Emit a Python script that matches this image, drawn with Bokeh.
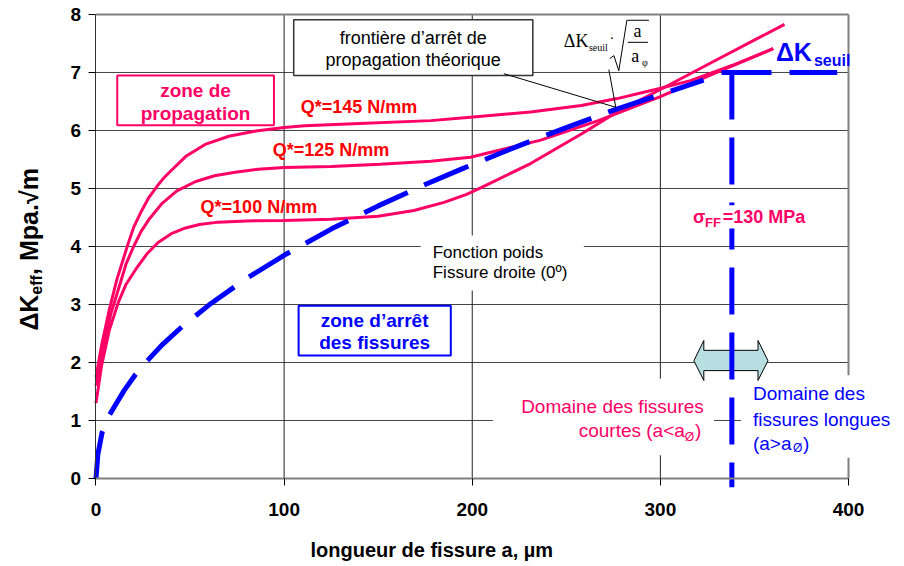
import math
from bokeh.plotting import figure
from bokeh.models import Label, FixedTicker, Range1d
from bokeh.embed import file_html
from bokeh.resources import INLINE

# ---------------- data ----------------
x_ticks = [0, 100, 200, 300, 400]
y_ticks = [0, 1, 2, 3, 4, 5, 6, 7, 8]
x_grid = [100, 200, 300]
y_grid = [1, 2, 3, 4, 5, 6, 7]

# Q* = 145 N/mm
a_q145 = [0, 3, 7, 11, 16.6, 20, 24, 28, 32.5, 36, 40, 47.6, 58, 70.6, 85, 100, 111, 140, 178, 199, 231, 258, 277, 299, 316, 338, 360]
k_q145 = [1.75, 2.3, 2.9, 3.42, 4.0, 4.33, 4.6, 4.84, 5.04, 5.18, 5.31, 5.55, 5.76, 5.9, 5.99, 6.05, 6.08, 6.12, 6.17, 6.23, 6.32, 6.43, 6.55, 6.72, 6.86, 7.12, 7.41]
# Q* = 125 N/mm
a_q125 = [0, 3, 8, 13, 16, 20, 24, 28, 35, 43, 53, 63, 74, 86, 100, 125, 151, 178, 199, 236, 267, 299, 330, 360]
k_q125 = [1.6, 2.13, 2.85, 3.38, 3.7, 4.0, 4.26, 4.46, 4.74, 4.96, 5.12, 5.22, 5.28, 5.33, 5.36, 5.38, 5.42, 5.47, 5.54, 5.83, 6.17, 6.57, 7.0, 7.41]
# Q* = 100 N/mm
a_q100 = [0, 3, 7, 12, 16, 21, 27, 33, 40, 47.6, 55, 65, 80, 100, 125, 150, 169, 185, 197, 205, 231, 258, 277, 299, 330, 366]
k_q100 = [1.3, 1.95, 2.55, 3.05, 3.35, 3.6, 3.87, 4.07, 4.22, 4.32, 4.38, 4.42, 4.44, 4.45, 4.47, 4.52, 4.62, 4.76, 4.9, 5.02, 5.43, 5.94, 6.32, 6.69, 7.22, 7.83]
# theoretical arrest boundary  dK_seuil * sqrt(a / a0)
a_front = [0, 1, 3.3, 6.4, 10, 15, 20.9, 27, 35, 45.8, 60, 80, 101.7, 125, 150, 175, 193.9, 225, 250, 276, 300, 323]
k_front = [0, 0.42, 0.8, 1.05, 1.25, 1.52, 1.79, 2.02, 2.3, 2.62, 2.99, 3.45, 3.88, 4.3, 4.7, 5.07, 5.33, 5.74, 6.05, 6.36, 6.62, 6.87]
# threshold
a_crit = 338          # a0 (µm)
dk_seuil = 7.0        # MPa.sqrt(m)
dk_low = -0.15
a_seuil_start = 332.5
a_seuil_end = 394

PINK = "#FF0066"
RED = "#FF0000"
BLUE = "#0000FF"
FONT = "Liberation Sans"
SERIF = "Liberation Serif"

# the frame spans the whole canvas; axes are fixed at a=0 and dK=0
p = figure(width=904, height=566, output_backend="svg", toolbar_location=None,
           x_range=Range1d(-50.76, 429.77), y_range=Range1d(-1.517, 8.241),
           min_border_left=0, min_border_right=0, min_border_top=0, min_border_bottom=0)
p.background_fill_color = "white"
p.border_fill_color = "white"
p.outline_line_color = None
p.xgrid.visible = False
p.ygrid.visible = False

for ax, ticks in ((p.xaxis, x_ticks), (p.yaxis, y_ticks)):
    ax.ticker = FixedTicker(ticks=ticks)
    ax.fixed_location = 0
    ax.bounds = (ticks[0], ticks[-1])
    ax.major_label_text_font = FONT
    ax.major_label_text_font_size = "19px"
    ax.major_label_text_font_style = "bold"
    ax.major_label_text_color = "black"
    ax.major_tick_in = 0
    ax.major_tick_out = 7
    ax.major_tick_line_color = "black"
    ax.minor_tick_line_color = None
p.xaxis.major_label_standoff = 17
p.yaxis.major_label_standoff = 8
p.xaxis.axis_line_color = "#808080"
p.xaxis.axis_line_width = 2
p.yaxis.axis_line_color = "#333333"

# grid lines and frame border
p.segment(x0=[x_ticks[0]] * len(y_grid), x1=[x_ticks[-1]] * len(y_grid), y0=y_grid, y1=y_grid,
          line_color="#444444", line_width=1)
p.segment(x0=x_grid, x1=x_grid, y0=[y_ticks[0]] * len(x_grid), y1=[y_ticks[-1]] * len(x_grid),
          line_color="#222222", line_width=1)
p.segment(x0=[x_ticks[0], x_ticks[-1]], x1=[x_ticks[-1], x_ticks[-1]],
          y0=[y_ticks[-1], y_ticks[0]], y1=[y_ticks[-1], y_ticks[-1]],
          line_color="#808080", line_width=2)

# white backgrounds of free texts (hide grid lines)
p.quad(left=[172.6, 210.9, 342.8], right=[259.3, 328.5, 430], top=[4.19, 1.72, 1.78],
       bottom=[3.24, 0.40, 0.36], fill_color="white", line_color=None)

# curves
p.line(a_q145, k_q145, line_color=PINK, line_width=3)
p.line(a_q125, k_q125, line_color=PINK, line_width=3)
p.line(a_q100, k_q100, line_color=PINK, line_width=3)
p.line(a_front, k_front, line_color=BLUE, line_width=5, line_dash="48 18")

# double arrow
arrow_x = [317.8, 323.1, 323.1, 351.9, 351.9, 357.2, 351.9, 351.9, 323.1, 323.1]
arrow_y = [2.03, 2.38, 2.21, 2.21, 2.38, 2.03, 1.69, 1.86, 1.86, 1.69]
p.patch(arrow_x, arrow_y, fill_color="#B7DEE0", line_color="black", line_width=1)

# threshold lines
p.line([a_crit, a_crit], [dk_seuil, dk_low], line_color=BLUE, line_width=5, line_dash="47 18")
p.line([a_seuil_start, a_seuil_end], [dk_seuil, dk_seuil], line_color=BLUE, line_width=5, line_dash="50 18")

# sigma label background
p.quad(left=[315.2], right=[396], top=[4.71], bottom=[4.31], fill_color="white", line_color=None)

# framed boxes
p.quad(left=[11.3], right=[94.6], top=[6.95], bottom=[6.09], fill_color="white", line_color=PINK, line_width=2)
p.quad(left=[105.1], right=[232.2], top=[7.91], bottom=[6.95], fill_color="white", line_color="#333333", line_width=1.5)
p.quad(left=[107.7], right=[188.6], top=[2.98], bottom=[2.12], fill_color="white", line_color=BLUE, line_width=2)

# leader lines
p.segment(x0=[216.8, 272.6], y0=[6.98, 7.05], x1=[276.3, 276.3], y1=[6.40, 6.40], line_color="black", line_width=1)

# formula sqrt sign and fraction bar
p.line([273.1, 275.3, 277.9, 282.2, 293.9], [7.24, 7.29, 7.03, 7.90, 7.90], line_color="black", line_width=1)
p.segment(x0=[282.7], y0=[7.52], x1=[293.4], y1=[7.52], line_color="black", line_width=1)


def lab(x, y, text, size, color="black", bold=False, align="left", baseline="middle", font=FONT, angle=0.0):
    p.add_layout(Label(x=x, y=y, text=text, text_font=font, text_font_size=f"{size}px",
                       text_font_style="bold" if bold else "normal", text_color=color,
                       text_align=align, text_baseline=baseline, angle=angle))


lab(52.9, 6.69, "zone de", 19, PINK, True, "center")
lab(52.9, 6.29, "propagation", 19, PINK, True, "center")
lab(108.8, 6.40, "Q*=145 N/mm", 18, RED, True)
lab(93.9, 5.66, "Q*=125 N/mm", 18, RED, True)
lab(55.6, 4.68, "Q*=100 N/mm", 18, RED, True)
lab(168.6, 7.59, "frontière d’arrêt de", 18, "black", False, "center")
lab(168.6, 7.21, "propagation théorique", 18, "black", False, "center")
lab(179.0, 3.90, "Fonction poids", 17)
lab(179.0, 3.56, "Fissure droite (0º)", 17)
lab(148.1, 2.72, "zone d’arrêt", 19, BLUE, True, "center")
lab(148.1, 2.35, "des fissures", 19, BLUE, True, "center")

# formula
lab(248.7, 7.55, "ΔK", 18, "black", False, font=SERIF)
lab(262.0, 7.43, "seuil", 10, "black", False, font=SERIF)
lab(274.2, 7.59, "·", 14, "black", False, "center", font=SERIF)
lab(287.9, 7.71, "a", 18, "black", False, "center", font=SERIF)
lab(286.6, 7.28, "a", 18, "black", False, "center", font=SERIF)
lab(290.2, 7.17, "φ", 10, "black", False, font=SERIF)

# threshold labels
lab(361.4, 7.35, "ΔK", 25, BLUE, True)
lab(381.6, 7.21, "seuil", 16, BLUE, True)
lab(317.3, 4.50, "σ", 18, PINK, True)
lab(323.7, 4.41, "FF", 13, PINK, True)
lab(333.2, 4.50, "=130 MPa", 18, PINK, True)

# domains
lab(323.1, 1.24, "Domaine des fissures", 19, PINK, False, "right")
lab(313.0, 0.83, "courtes (a<a", 19, PINK, False, "right")
lab(313.0, 0.71, "Ø", 12, PINK, False)
lab(318.4, 0.83, ")", 19, PINK, False)
lab(349.2, 1.47, "Domaine des", 19, BLUE)
lab(349.2, 1.02, "fissures longues", 19, BLUE)
lab(349.2, 0.60, "(a>a", 19, BLUE)
lab(370.5, 0.52, "Ø", 12, BLUE)
lab(375.8, 0.60, ")", 19, BLUE)

# axis titles
lab(178.5, -1.224, "longueur de fissure a, µm", 20, "black", True, "center")
lab(-35.4, 2.55, "ΔK", 25, "black", True, angle=math.pi / 2)
lab(-31.6, 3.17, "eff", 16, "black", True, angle=math.pi / 2)
lab(-35.4, 3.51, ", Mpa.√m", 25, "black", True, angle=math.pi / 2)

open("out.html", "w").write(file_html(p, INLINE))
